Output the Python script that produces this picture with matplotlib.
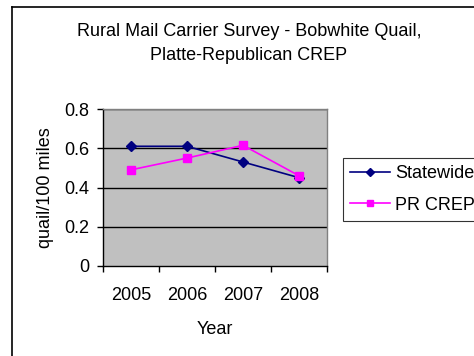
import matplotlib
matplotlib.use("Agg")
import matplotlib.pyplot as plt
from matplotlib.lines import Line2D

plt.rcParams['font.family'] = ['Liberation Sans', 'DejaVu Sans']

years = ["2005", "2006", "2007", "2008"]
statewide = [0.61, 0.61, 0.53, 0.45]
pr_crep = [0.49, 0.55, 0.615, 0.46]
y_ticks = [0, 0.2, 0.4, 0.6, 0.8]
y_tick_labels = ["0", "0.2", "0.4", "0.6", "0.8"]

W, H = 474, 356
FS = 13
fig = plt.figure(figsize=(W / 100, H / 100), dpi=100)
fig.patch.set_facecolor("white")

# outer chart border (top and left edges visible)
fig.add_artist(Line2D([12 / W, 12 / W], [0, 1 - 7 / H], transform=fig.transFigure,
                      color="black", lw=1.2))
fig.add_artist(Line2D([12 / W, 1], [1 - 7 / H, 1 - 7 / H], transform=fig.transFigure,
                      color="black", lw=1.2))

left, right, top, bottom = 103, 327, 109, 266
ax = fig.add_axes([left / W, 1 - bottom / H, (right - left) / W, (bottom - top) / H])
ax.set_facecolor("#C0C0C0")

x = list(range(1, len(years) + 1))
ax.plot(x, statewide, color="#000080", lw=1.2, marker="D", ms=5,
        mfc="#000080", mec="#000080", label="Statewide", zorder=3)
ax.plot(x, pr_crep, color="#FF00FF", lw=1.2, marker="s", ms=5.5,
        mfc="#FF00FF", mec="#FF00FF", label="PR CREP", zorder=3)

ax.set_xlim(0.5, len(years) + 0.5)
ax.set_ylim(0, 0.8)
ax.set_yticks(y_ticks)
ax.set_yticklabels(y_tick_labels)
ax.set_xticks([i + 0.5 for i in range(0, len(years) + 1)])
ax.set_xticklabels([])
ax.set_xticks(x, minor=True)
ax.set_xticklabels(years, minor=True)
ax.tick_params(axis="x", which="minor", length=0, pad=15, labelsize=FS)
ax.tick_params(axis="x", which="major", direction="out", length=4, width=1, color="black")
ax.tick_params(axis="y", direction="out", length=4, width=1, color="black",
               labelsize=FS, pad=6)

for yv in y_ticks[1:]:
    ax.axhline(yv, color="black", lw=1, zorder=1)

for s in ["top", "right"]:
    ax.spines[s].set_color("#808080")
    ax.spines[s].set_linewidth(1)
for s in ["left", "bottom"]:
    ax.spines[s].set_color("black")
    ax.spines[s].set_linewidth(1)

ax.set_ylabel("quail/100 miles", fontsize=FS, labelpad=7)
ax.set_xlabel("Year", fontsize=FS, labelpad=12)

fig.text(249 / W, 1 - 31 / H, "Rural Mail Carrier Survey - Bobwhite Quail,",
         ha="center", va="center", fontsize=FS)
fig.text(249 / W, 1 - 56 / H, "Platte-Republican CREP",
         ha="center", va="center", fontsize=FS)

leg = fig.legend(loc="upper left", bbox_to_anchor=(343 / W, 1 - 158 / H),
                 frameon=True, fancybox=False, fontsize=FS, handlelength=2.2,
                 borderpad=0.4, labelspacing=0.8, handletextpad=0.28,
                 borderaxespad=0, markerscale=0.75)
leg.get_frame().set_edgecolor("black")
leg.get_frame().set_linewidth(0.8)

fig.savefig("out.png", dpi=100)
